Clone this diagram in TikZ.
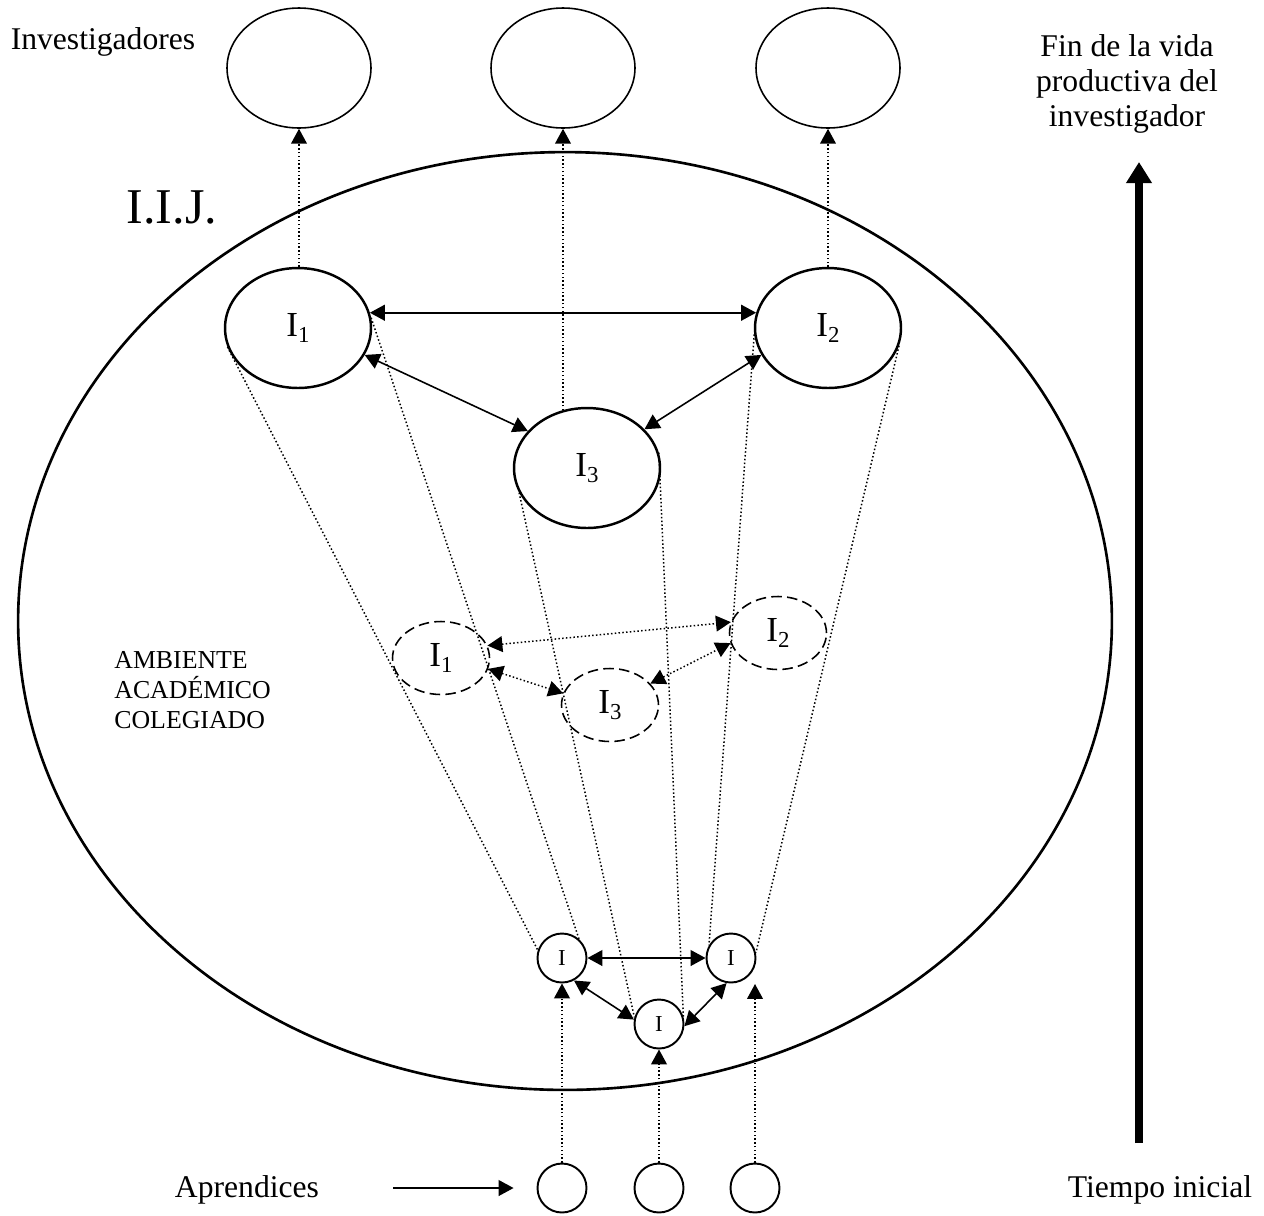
\documentclass[tikz,border=0pt]{standalone}
\usepackage{fontspec}
\setmainfont{Liberation Serif}
\usetikzlibrary{arrows.meta,shapes.geometric}

% label of an ellipse: capital I with a lowered index
\newcommand{\idx}[1]{I{\fontsize{13}{13}\selectfont\raisebox{-3pt}{#1}}}

\begin{document}
\begin{tikzpicture}[x=0.02cm, y=-0.02cm,
  head/.style={-{Triangle[length=8.5pt,width=9pt]}},
  twohead/.style={{Triangle[length=8.5pt,width=9pt]}-{Triangle[length=8.5pt,width=9pt]}},
  link/.style={twohead, line width=0.9pt},
  fine/.style={line width=0.85pt, dash pattern=on 0.85pt off 1.3pt},
  finelink/.style={fine, twohead},
  fineup/.style={fine, head},
  lbl/.style={font=\fontsize{20}{24}\selectfont},
  endnode/.style={ellipse, draw, line width=0.9pt, minimum width=2.88cm, minimum height=2.4cm, inner sep=0pt},
  senior/.style={ellipse, draw, line width=1.4pt, minimum width=2.92cm, minimum height=2.4cm, inner sep=0pt, lbl},
  middle/.style={ellipse, draw, line width=0.9pt, dash pattern=on 6pt off 3pt, minimum width=1.94cm, minimum height=1.46cm, inner sep=0pt, lbl},
  junior/.style={circle, draw, line width=1.1pt, minimum size=0.98cm, inner sep=0pt, font=\fontsize{13}{13}\selectfont},
  novice/.style={circle, draw, line width=1.1pt, minimum size=0.98cm, inner sep=0pt},
  txt/.style={font=\fontsize{18}{20}\selectfont, inner sep=0pt}
]
\useasboundingbox (0,0) rectangle (1264,1215);

% institute boundary
\node[ellipse, draw, line width=1.5pt, minimum width=21.88cm, minimum height=18.76cm, inner sep=0pt] (env) at (565,621) {};

% researchers at the end of their productive life
\node[endnode] (T1) at (299,68) {};
\node[endnode] (T2) at (563,68) {};
\node[endnode] (T3) at (828,68) {};

% consolidated researchers
\node[senior] (I1) at (298,328) {\idx{1}};
\node[senior] (I2) at (828,328) {\idx{2}};
\node[senior] (I3) at (587,468) {\idx{3}};

% researchers in formation
\node[middle] (D1) at (441,658) {\idx{1}};
\node[middle] (D2) at (778,633) {\idx{2}};
\node[middle] (D3) at (610,705) {\idx{3}};

% young researchers
\node[junior] (S1) at (562,958) {I};
\node[junior] (S2) at (731,958) {I};
\node[junior] (S3) at (659,1024) {I};

% apprentices
\node[novice] (A1) at (562,1188) {};
\node[novice] (A2) at (659,1188) {};
\node[novice] (A3) at (755,1188) {};

% growth cones
\draw[fine] (I1.195) -- (S1.162);
\draw[fine] (I1.8) -- (S1.48);
\draw[fine] (I3.200) -- (S3.165);
\draw[fine] (I3.12) -- (S3.17);
\draw[fine] (I2.185) -- (S2.150);
\draw[fine] (I2.346) -- (S2.12);

% exit towards the end of the productive life
\draw[fineup] (T1.south |- I1.north) -- (T1.south);
\draw[fineup] (T2.south |- I3.113) -- (T2.south);
\draw[fineup] (T3.south |- I2.north) -- (T3.south);

% collaboration among consolidated researchers
\draw[link] (I1.12) -- (I2.168);
\draw[link] (I1.-22) -- (I3.148);
\draw[link] (I2.202) -- (I3.34);

% collaboration among researchers in formation
\draw[finelink] (D1.15) -- (D2.167);
\draw[finelink] (D1.-13) -- (D3.166);
\draw[finelink] (D3.28) -- (D2.192);

% collaboration among young researchers
\draw[link] (S1.east) -- (S2.west);
\draw[link] (S1.-62) -- (S3.170);
\draw[link] (S3.-5) -- (S2.-100);

% entry of apprentices
\coordinate (A3up) at (755,984);
\draw[fineup] (A1.north) -- (S1.south);
\draw[fineup] (A2.north) -- (S3.south);
\draw[fineup] (A3.north) -- (A3up);

% labels
\node[txt] (lInv) at (103,42) {Investigadores};
\node[font=\fontsize{28.5}{30}\selectfont, inner sep=0pt] (lIIJ) at (172,207) {I.I.J.};
\node[txt, align=center] (lFin) at (1127,84) {Fin de la vida\\productiva del\\investigador};
\node[font=\fontsize{14.7}{17}\selectfont, align=left, inner sep=0pt, anchor=west] (lAmb) at (114,690) {AMBIENTE\\ACADÉMICO\\COLEGIADO};
\node[txt] (lApr) at (247,1190) {Aprendices};
\node[txt] (lTie) at (1160,1190) {Tiempo inicial};

% apprentices pointer
\coordinate (aprStart) at (393,1188);
\draw[head, line width=0.9pt, shorten >=0.46cm] (aprStart) -- (A1.west);

% time axis
\coordinate (tBot) at (1139,1143);
\coordinate (tTop) at (1139,162);
\draw[line width=4.5pt, -{Triangle[length=12pt,width=14pt]}] (tBot) -- (tTop);
\end{tikzpicture}
\end{document}
